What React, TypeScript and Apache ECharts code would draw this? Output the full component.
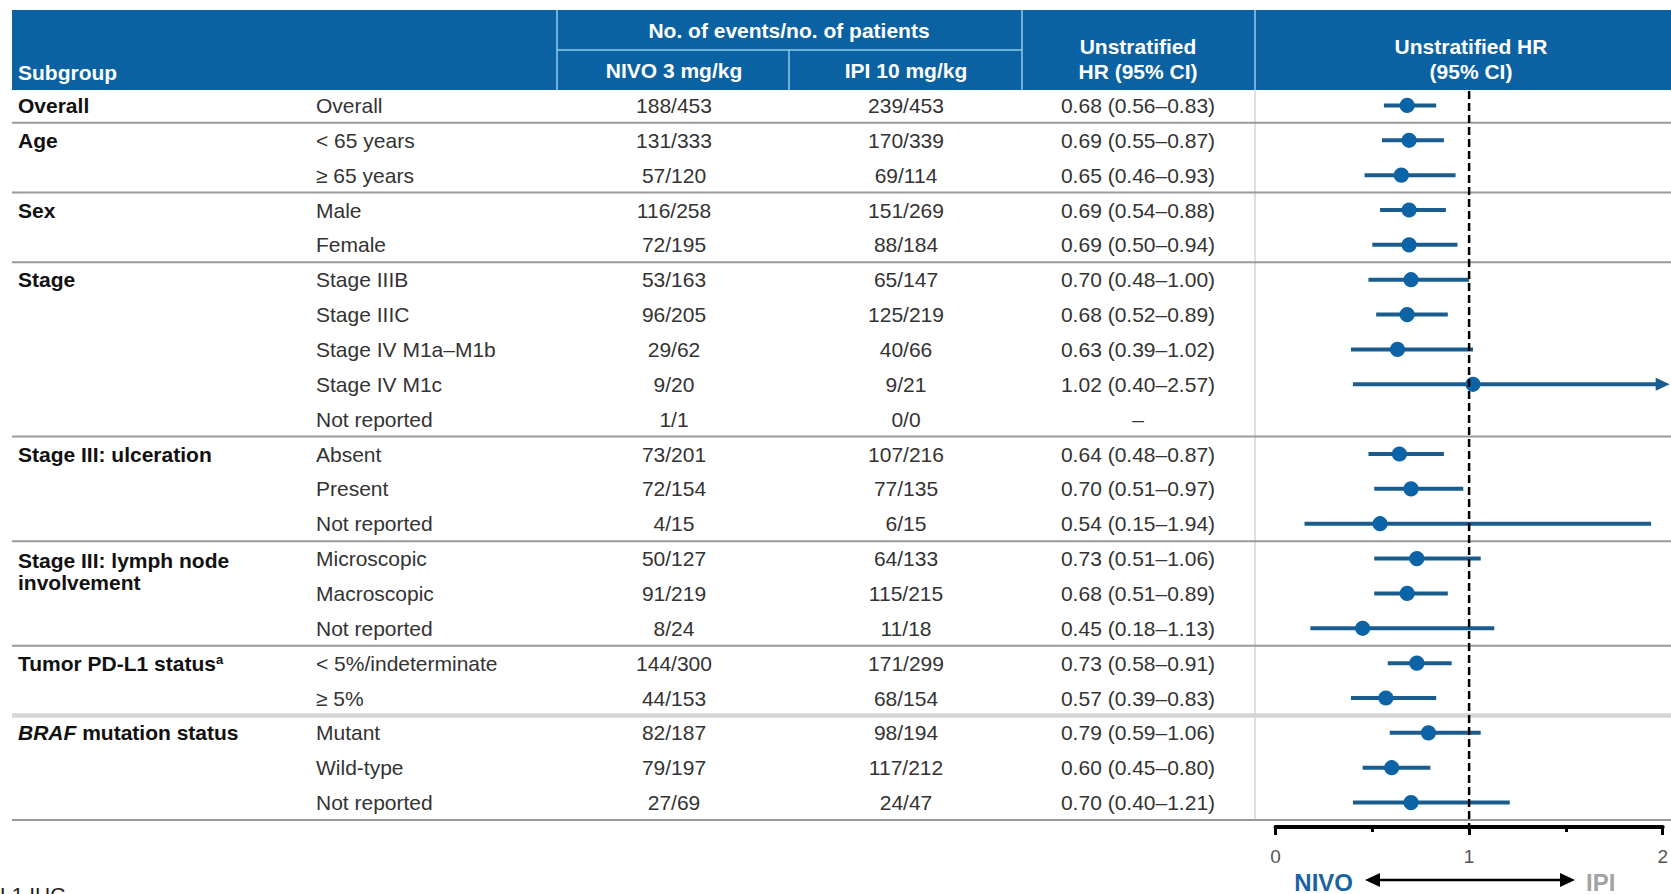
import React, { useEffect, useRef } from "react";
import * as echarts from "echarts";

// ---- Data -----------------------------------------------------------------
const groupNames = [
  "Overall",
  "Age",
  "Sex",
  "Stage",
  "Stage III: ulceration",
  "Stage III: lymph node\ninvolvement",
  "Tumor PD-L1 status{sup|a}",
  "{em|BRAF} mutation status",
];
const rowGroup = [0, 1, 1, 2, 2, 3, 3, 3, 3, 3, 4, 4, 4, 5, 5, 5, 6, 6, 7, 7, 7];
const subgroups = [
  "Overall",
  "< 65 years",
  "≥ 65 years",
  "Male",
  "Female",
  "Stage IIIB",
  "Stage IIIC",
  "Stage IV M1a–M1b",
  "Stage IV M1c",
  "Not reported",
  "Absent",
  "Present",
  "Not reported",
  "Microscopic",
  "Macroscopic",
  "Not reported",
  "< 5%/indeterminate",
  "≥ 5%",
  "Mutant",
  "Wild-type",
  "Not reported",
];
const nivoCounts = [
  "188/453", "131/333", "57/120", "116/258", "72/195", "53/163", "96/205", "29/62", "9/20", "1/1",
  "73/201", "72/154", "4/15", "50/127", "91/219", "8/24", "144/300", "44/153", "82/187", "79/197", "27/69",
];
const ipiCounts = [
  "239/453", "170/339", "69/114", "151/269", "88/184", "65/147", "125/219", "40/66", "9/21", "0/0",
  "107/216", "77/135", "6/15", "64/133", "115/215", "11/18", "171/299", "68/154", "98/194", "117/212", "24/47",
];
const hazardRatio: (number | null)[] = [
  0.68, 0.69, 0.65, 0.69, 0.69, 0.7, 0.68, 0.63, 1.02, null,
  0.64, 0.7, 0.54, 0.73, 0.68, 0.45, 0.73, 0.57, 0.79, 0.6, 0.7,
];
const ciLower: (number | null)[] = [
  0.56, 0.55, 0.46, 0.54, 0.5, 0.48, 0.52, 0.39, 0.4, null,
  0.48, 0.51, 0.15, 0.51, 0.51, 0.18, 0.58, 0.39, 0.59, 0.45, 0.4,
];
const ciUpper: (number | null)[] = [
  0.83, 0.87, 0.93, 0.88, 0.94, 1.0, 0.89, 1.02, 2.57, null,
  0.87, 0.97, 1.94, 1.06, 0.89, 1.13, 0.91, 0.83, 1.06, 0.8, 1.21,
];
const headerSubgroup = "Subgroup";
const headerEvents = "No. of events/no. of patients";
const headerNivo = "NIVO 3 mg/kg";
const headerIpi = "IPI 10 mg/kg";
const headerHrText = ["Unstratified", "HR (95% CI)"];
const headerHrPlot = ["Unstratified HR", "(95% CI)"];
const axisMin = 0;
const axisMax = 2;
const axisStep = 1;
const referenceHR = 1;
const favoursLeft = "NIVO";
const favoursRight = "IPI";
const footnote = "L1 IHC";

// ---- Layout & style -------------------------------------------------------
const W = 1671;
const H = 894;
const FONT = '"Liberation Sans", Arial, Helvetica, sans-serif';
const FS = 21;
const GRID_TOP = 88;
const GRID_H = 732;
const PLOT_LEFT = 1275.5;
const PLOT_W = 388;
const COL_GROUP = 18;
const COL_SUB = 316;
const COL_NIVO = 674;
const COL_IPI = 906;
const COL_HR = 1138;
const HEADER_BLUE = "#0a62a3";
const HEADER_RULE = "#8fcbea";
const MARK_BLUE = "#0c63a6";
const WHISKER = "#1b5c8e";

const fmt = (v: number) => v.toFixed(2);
const hrLabels = hazardRatio.map((h, i) =>
  h == null ? "–" : `${fmt(h)} (${fmt(ciLower[i] as number)}–${fmt(ciUpper[i] as number)})`
);
const rowKeys = subgroups.map((_, i) => String(i));

const richStyles = {
  sup: { fontSize: 13, fontWeight: "bold", fontStyle: "normal", fontFamily: FONT, fill: "#111", verticalAlign: "top" },
  em: { fontSize: FS, fontWeight: "bold", fontStyle: "italic", fontFamily: FONT, fill: "#111" },
};

function textEl(x: number, y: number, text: string, opts: any = {}) {
  const align = opts.align || "left";
  return {
    type: "text",
    x,
    y,
    silent: true,
    style: {
      text,
      fill: opts.fill || "#333",
      fontSize: opts.fontSize || FS,
      fontWeight: opts.bold ? "bold" : "normal",
      fontStyle: "normal",
      fontFamily: FONT,
      align,
      textAlign: align,
      verticalAlign: opts.valign || "middle",
      textVerticalAlign: opts.valign || "middle",
      rich: opts.rich,
    },
  };
}

function lineEl(x1: number, y1: number, x2: number, y2: number, stroke: string, lineWidth: number, extra: any = {}) {
  return {
    type: "line",
    silent: true,
    shape: { x1, y1, x2, y2 },
    style: { stroke, lineWidth, ...extra },
  };
}

// Table rows: text columns and group rules, placed through the table grid's axes
function renderTableRow(params: any, api: any) {
  const i = params.dataIndex;
  const center = api.coord([0, i]);
  const y = center[1];
  const band = api.size([0, 1])[1];
  const px = (v: number) => api.coord([v, i])[0];
  const children: any[] = [];
  const first = i === 0 || rowGroup[i] !== rowGroup[i - 1];
  const last = i === subgroups.length - 1 || rowGroup[i + 1] !== rowGroup[i];

  if (first) {
    const lines = groupNames[rowGroup[i]].split("\n");
    lines.forEach((ln, k) => {
      children.push(textEl(px(COL_GROUP), y + 2 * (lines.length - 1) + k * 22, ln, { bold: true, fill: "#111", rich: richStyles }));
    });
  }
  children.push(textEl(px(COL_SUB), y, subgroups[i]));
  children.push(textEl(px(COL_NIVO), y, nivoCounts[i], { align: "center" }));
  children.push(textEl(px(COL_IPI), y, ipiCounts[i], { align: "center" }));
  children.push(textEl(px(COL_HR), y, hrLabels[i], { align: "center" }));

  if (last) {
    const ry = y + band / 2;
    const heavy = rowGroup[i] === 6;
    children.push(
      lineEl(px(12), ry, px(W), ry, heavy ? "#d6d6d6" : "#9a9a9a", heavy ? 4.5 : 2)
    );
  }
  return { type: "group", children };
}

// Forest marks: CI whisker, arrow when the CI runs past the axis, HR point
function renderForestRow(params: any, api: any) {
  const hr = api.value(0);
  const row = api.value(1);
  const lo = api.value(2);
  const hi = api.value(3);
  const c = api.coord([hr, row]);
  const y = c[1];
  const xLo = api.coord([Math.max(lo, axisMin), row])[0];
  const capped = hi > axisMax;
  const xHi = api.coord([Math.min(hi, axisMax), row])[0];
  const children: any[] = [];
  children.push(lineEl(xLo, y, capped ? xHi - 6 : xHi, y, WHISKER, 4));
  if (capped) {
    children.push({
      type: "polygon",
      silent: true,
      shape: { points: [[xHi - 7, y - 6.5], [xHi + 7, y], [xHi - 7, y + 6.5]] },
      style: { fill: WHISKER },
    });
  }
  children.push({
    type: "circle",
    silent: true,
    shape: { cx: c[0], cy: y, r: 7.6 },
    style: { fill: MARK_BLUE },
  });
  return { type: "group", children };
}

function renderReference(params: any, api: any) {
  const band = api.size([0, 1])[1];
  const top = api.coord([referenceHR, 0]);
  const bottom = api.coord([referenceHR, subgroups.length - 1]);
  return lineEl(top[0], top[1] - band / 2 + 3, top[0], bottom[1] + band / 2 + 15, "#000", 2.5, {
    lineDash: [8, 4],
  });
}

const forestData = hazardRatio
  .map((h, i) => (h == null ? null : [h, i, ciLower[i], ciUpper[i]]))
  .filter((d) => d !== null);

function buildOption() {
  const headerTxt = (x: number, y: number, t: string, align = "center") =>
    textEl(x, y, t, { bold: true, fill: "#fff", align });

  const graphic: any[] = [
    {
      type: "rect",
      silent: true,
      shape: { x: 12, y: 10, width: W - 12, height: 80 },
      style: { fill: HEADER_BLUE },
    },
    lineEl(557, 10, 557, 90, HEADER_RULE, 1.5),
    lineEl(557, 50, 1022, 50, HEADER_RULE, 1.5),
    lineEl(789, 50, 789, 90, HEADER_RULE, 1.5),
    lineEl(1022, 10, 1022, 90, HEADER_RULE, 1.5),
    lineEl(1255, 10, 1255, 90, HEADER_RULE, 1.5),
    lineEl(1255, 90, 1255, 819, "#c9c9c9", 1.2),
    headerTxt(COL_GROUP, 72, headerSubgroup, "left"),
    headerTxt(789, 30, headerEvents),
    headerTxt(COL_NIVO, 70, headerNivo),
    headerTxt(COL_IPI, 70, headerIpi),
    headerTxt(COL_HR, 46, headerHrText[0]),
    headerTxt(COL_HR, 71, headerHrText[1]),
    headerTxt(1471, 46, headerHrPlot[0]),
    headerTxt(1471, 71, headerHrPlot[1]),
    // direction-of-benefit arrow under the axis
    lineEl(1378, 880, 1561, 880, "#000", 2.5),
    {
      type: "polygon",
      silent: true,
      shape: { points: [[1365, 880], [1380, 873], [1380, 887]] },
      style: { fill: "#000" },
    },
    {
      type: "polygon",
      silent: true,
      shape: { points: [[1575, 880], [1560, 873], [1560, 887]] },
      style: { fill: "#000" },
    },
    textEl(1353, 882, favoursLeft, { bold: true, fill: "#1d62a0", fontSize: 24, align: "right" }),
    textEl(1586, 882, favoursRight, { bold: true, fill: "#a3a3a3", fontSize: 24 }),
    textEl(0, 894, footnote, { fill: "#222" }),
  ];

  return {
    animation: false,
    backgroundColor: "#ffffff",
    grid: [
      { left: 0, top: GRID_TOP, width: W, height: GRID_H, show: false },
      { left: PLOT_LEFT, top: GRID_TOP, width: PLOT_W, height: GRID_H, show: false },
    ],
    xAxis: [
      { gridIndex: 0, type: "value", min: 0, max: W, show: false },
      {
        gridIndex: 1,
        type: "value",
        min: axisMin,
        max: axisMax,
        interval: axisStep,
        offset: 7,
        axisLine: { show: true, onZero: false, lineStyle: { color: "#000", width: 4 } },
        axisTick: { show: true, length: 8, lineStyle: { color: "#000", width: 3 } },
        minorTick: { show: true, splitNumber: 2, length: 5, lineStyle: { color: "#000", width: 3 } },
        splitLine: { show: false },
        minorSplitLine: { show: false },
        axisLabel: {
          show: true,
          margin: 20,
          color: "#555",
          fontSize: 19,
          fontFamily: FONT,
        },
      },
    ],
    yAxis: [
      { gridIndex: 0, type: "category", data: rowKeys, inverse: true, show: false },
      { gridIndex: 1, type: "category", data: rowKeys, inverse: true, show: false },
    ],
    series: [
      {
        type: "custom",
        xAxisIndex: 0,
        yAxisIndex: 0,
        clip: false,
        silent: true,
        data: subgroups.map((_, i) => [0, i]),
        encode: { x: 0, y: 1 },
        renderItem: renderTableRow,
      },
      {
        type: "custom",
        xAxisIndex: 1,
        yAxisIndex: 1,
        clip: false,
        silent: true,
        data: forestData,
        encode: { x: 0, y: 1 },
        renderItem: renderForestRow,
      },
      {
        type: "custom",
        xAxisIndex: 1,
        yAxisIndex: 1,
        clip: false,
        silent: true,
        data: [[referenceHR, 0]],
        encode: { x: 0, y: 1 },
        renderItem: renderReference,
      },
    ],
    graphic,
  };
}

export default function App() {
  const ref = useRef<HTMLDivElement>(null);
  useEffect(() => {
    if (!ref.current) return;
    const chart = echarts.init(ref.current, null, { renderer: "svg" });
    chart.setOption(buildOption() as any);
    return () => chart.dispose();
  }, []);
  return (
    <div
      ref={ref}
      style={{ position: "fixed", left: 0, top: 0, width: W, height: H, background: "#fff" }}
    />
  );
}
